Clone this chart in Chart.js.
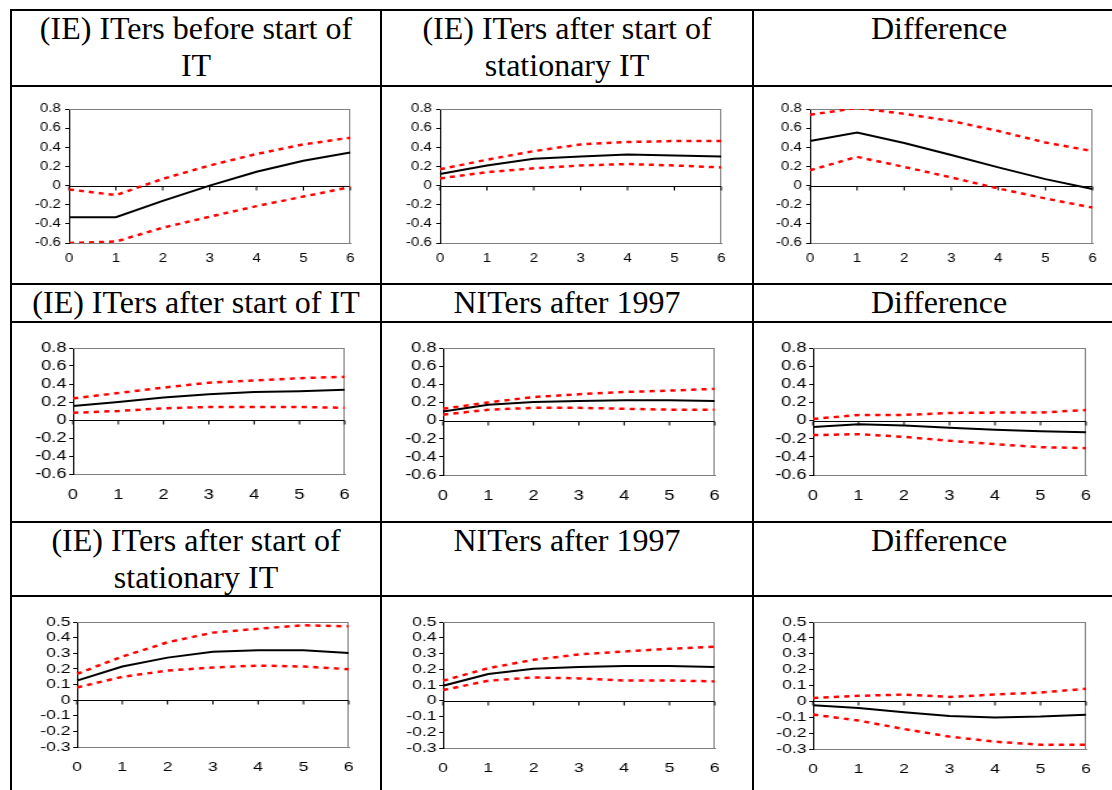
<!DOCTYPE html>
<html>
<head>
<meta charset="utf-8">
<script src="https://cdn.jsdelivr.net/npm/chart.js@4.4.1/dist/chart.umd.min.js"></script>
<style>
  body { margin: 0; background: #fff; width: 1112px; height: 790px; overflow: hidden; position: relative; }
  .hl, .vl { position: absolute; background: #000; }
  .hl { height: 2px; left: 10px; width: 1120px; }
  .vl { width: 2px; top: 9px; height: 800px; }
  .hd { position: absolute; text-align: center; font: 32px/37px "Liberation Serif", "Times New Roman", serif; white-space: nowrap; color: #000; }
  .panel { position: absolute; transform-origin: 0 0; }
</style>
</head>
<body>
<!-- table rules -->
<div class="hl" style="top:9px"></div>
<div class="hl" style="top:85px"></div>
<div class="hl" style="top:283px"></div>
<div class="hl" style="top:321px"></div>
<div class="hl" style="top:521px"></div>
<div class="hl" style="top:595px"></div>
<div class="vl" style="left:10px"></div>
<div class="vl" style="left:380px"></div>
<div class="vl" style="left:752px"></div>

<!-- headers -->
<div class="hd" style="left:12px;width:368px;top:10px">(IE) ITers before start of<br>IT</div>
<div class="hd" style="left:382px;width:370px;top:10px">(IE) ITers after start of<br>stationary IT</div>
<div class="hd" style="left:754px;width:370px;top:10px">Difference</div>
<div class="hd" style="left:12px;width:368px;top:284px">(IE) ITers after start of IT</div>
<div class="hd" style="left:382px;width:370px;top:284px">NITers after 1997</div>
<div class="hd" style="left:754px;width:370px;top:284px">Difference</div>
<div class="hd" style="left:12px;width:368px;top:522px">(IE) ITers after start of<br>stationary IT</div>
<div class="hd" style="left:382px;width:370px;top:522px">NITers after 1997</div>
<div class="hd" style="left:754px;width:370px;top:522px">Difference</div>

<script>
const horizons = ['0', '1', '2', '3', '4', '5', '6'];

// row 1
const beforeMid = [-0.33, -0.33, -0.16, 0.0, 0.145, 0.26, 0.345];
const beforeUp = [-0.04, -0.10, 0.07, 0.21, 0.33, 0.43, 0.50];
const beforeLow = [-0.60, -0.585, -0.44, -0.325, -0.215, -0.115, -0.015];

const statMid = [0.12, 0.21, 0.28, 0.305, 0.325, 0.315, 0.305];
const statUp = [0.17, 0.27, 0.36, 0.43, 0.455, 0.465, 0.465];
const statLow = [0.075, 0.14, 0.18, 0.21, 0.225, 0.21, 0.19];

const diff1Mid = [0.465, 0.555, 0.445, 0.32, 0.19, 0.067, -0.035];
const diff1Up = [0.74, 0.81, 0.75, 0.675, 0.57, 0.45, 0.36];
const diff1Low = [0.16, 0.30, 0.195, 0.085, -0.03, -0.135, -0.23];

// row 2
const afterMid = [0.155, 0.20, 0.25, 0.285, 0.31, 0.32, 0.335];
const afterUp = [0.24, 0.30, 0.36, 0.415, 0.44, 0.465, 0.48];
const afterLow = [0.08, 0.10, 0.13, 0.145, 0.145, 0.145, 0.135];

const nit2Mid = [0.10, 0.175, 0.205, 0.215, 0.225, 0.225, 0.215];
const nit2Up = [0.13, 0.20, 0.26, 0.29, 0.315, 0.33, 0.35];
const nit2Low = [0.065, 0.12, 0.14, 0.14, 0.13, 0.12, 0.12];

const diff2Mid = [-0.07, -0.04, -0.055, -0.08, -0.10, -0.117, -0.128];
const diff2Up = [0.018, 0.062, 0.062, 0.084, 0.088, 0.088, 0.117];
const diff2Low = [-0.16, -0.15, -0.18, -0.223, -0.26, -0.293, -0.304];

// row 3
const stat3Mid = [0.125, 0.215, 0.272, 0.309, 0.319, 0.319, 0.302];
const stat3Up = [0.168, 0.279, 0.37, 0.432, 0.457, 0.479, 0.472];
const stat3Low = [0.081, 0.149, 0.189, 0.209, 0.221, 0.215, 0.198];

const nit3Mid = [0.095, 0.17, 0.203, 0.214, 0.22, 0.22, 0.214];
const nit3Up = [0.127, 0.207, 0.26, 0.294, 0.313, 0.33, 0.343];
const nit3Low = [0.068, 0.127, 0.148, 0.142, 0.129, 0.129, 0.123];

const diff3Mid = [-0.024, -0.041, -0.068, -0.092, -0.102, -0.096, -0.085];
const diff3Up = [0.022, 0.035, 0.043, 0.028, 0.043, 0.056, 0.079];
const diff3Low = [-0.083, -0.121, -0.174, -0.222, -0.254, -0.273, -0.273];

// plot box = [left, top, right, bottom] on the page; sx = horizontal stretch of the pasted picture
const panels = [
  { mid: beforeMid, up: beforeUp, low: beforeLow, box: [69.3, 109, 350.7, 242.5], yMin: -0.6, yMax: 0.8, step: 0.2, font: 12, sx: 1.25, xPad: 8.5, yPad: 3.5 },
  { mid: statMid, up: statUp, low: statLow, box: [440, 109, 721.7, 242.5], yMin: -0.6, yMax: 0.8, step: 0.2, font: 12, sx: 1.25, xPad: 8.5, yPad: 3.5 },
  { mid: diff1Mid, up: diff1Up, low: diff1Low, box: [810, 109, 1093, 242.5], yMin: -0.6, yMax: 0.8, step: 0.2, font: 12, sx: 1.25, xPad: 8.5, yPad: 3.5 },
  { mid: afterMid, up: afterUp, low: afterLow, box: [72.7, 348.3, 344.3, 474.5], yMin: -0.6, yMax: 0.8, step: 0.2, font: 14, sx: 1.3, xPad: 12.5, yPad: 2 },
  { mid: nit2Mid, up: nit2Up, low: nit2Low, box: [443.3, 348.3, 715, 475], yMin: -0.6, yMax: 0.8, step: 0.2, font: 14, sx: 1.3, xPad: 12.5, yPad: 2 },
  { mid: diff2Mid, up: diff2Up, low: diff2Low, box: [813.3, 348.3, 1086.7, 475.5], yMin: -0.6, yMax: 0.8, step: 0.2, font: 14, sx: 1.3, xPad: 12.5, yPad: 2 },
  { mid: stat3Mid, up: stat3Up, low: stat3Low, box: [76.7, 622.3, 348.7, 747.7], yMin: -0.3, yMax: 0.5, step: 0.1, font: 13.5, sx: 1.3, xPad: 12.5, yPad: 2 },
  { mid: nit3Mid, up: nit3Up, low: nit3Low, box: [443.3, 622.3, 715, 748.3], yMin: -0.3, yMax: 0.5, step: 0.1, font: 13.5, sx: 1.3, xPad: 12.5, yPad: 2 },
  { mid: diff3Mid, up: diff3Up, low: diff3Low, box: [813.3, 622.3, 1086.7, 749], yMin: -0.3, yMax: 0.5, step: 0.1, font: 13.5, sx: 1.3, xPad: 12.5, yPad: 2 }
];

// grey frame on top/right plus the category axis crossing at zero with its tick marks
const zeroAxis = {
  id: 'zeroAxis',
  beforeDatasetsDraw(chart) {
    const { ctx, chartArea: a, scales: { x, y } } = chart;
    ctx.save();
    ctx.lineWidth = 1;
    ctx.strokeStyle = '#808080';
    ctx.beginPath();
    ctx.moveTo(a.left, a.top + 0.5);
    ctx.lineTo(a.right, a.top + 0.5);
    ctx.moveTo(a.right - 0.5, a.top);
    ctx.lineTo(a.right - 0.5, a.bottom);
    ctx.stroke();
    const y0 = Math.round(y.getPixelForValue(0)) + 0.5;
    ctx.strokeStyle = '#000';
    ctx.beginPath();
    ctx.moveTo(a.left, y0);
    ctx.lineTo(a.right, y0);
    horizons.forEach((h, i) => {
      const px = x.getPixelForValue(i);
      ctx.moveTo(px, y0);
      ctx.lineTo(px, y0 + 4);
    });
    ctx.stroke();
    ctx.restore();
  }
};

const yw = 40, padTop = 8, padRight = 8, xh = 30;

panels.forEach(p => {
  const [L, T, R, B] = p.box;
  const w = Math.round(yw + (R - L) / p.sx + padRight);
  const h = Math.round(padTop + (B - T) + xh);
  const wrap = document.createElement('div');
  wrap.className = 'panel';
  wrap.style.left = (L - yw * p.sx) + 'px';
  wrap.style.top = (T - padTop) + 'px';
  wrap.style.transform = 'scaleX(' + p.sx + ')';
  const canvas = document.createElement('canvas');
  canvas.width = w;
  canvas.height = h;
  wrap.appendChild(canvas);
  document.body.appendChild(wrap);

  const font = { family: '"Liberation Sans", Arial, sans-serif', size: p.font };

  new Chart(canvas.getContext('2d'), {
    type: 'line',
    data: {
      labels: horizons,
      datasets: [
        { data: p.up, borderColor: '#ff0000', borderWidth: 2.5, borderDash: [4, 4] },
        { data: p.low, borderColor: '#ff0000', borderWidth: 2.5, borderDash: [4, 4] },
        { data: p.mid, borderColor: '#000000', borderWidth: 2 }
      ]
    },
    options: {
      responsive: false,
      animation: false,
      events: [],
      elements: { point: { radius: 0 }, line: { tension: 0 } },
      layout: { padding: { left: 0, top: padTop, right: padRight, bottom: 0 } },
      plugins: { legend: { display: false }, tooltip: { enabled: false } },
      scales: {
        x: {
          type: 'category',
          offset: false,
          grid: { display: false, drawTicks: false },
          border: { display: true, color: '#808080', width: 1 },
          ticks: { color: '#000', font: font, padding: p.xPad, maxRotation: 0, autoSkip: false },
          afterFit(s) { s.height = xh; s.paddingLeft = 0; s.paddingRight = 0; }
        },
        y: {
          min: p.yMin,
          max: p.yMax,
          grid: { display: true, drawOnChartArea: false, drawTicks: true, tickLength: 3, color: '#000' },
          border: { display: true, color: '#000', width: 1 },
          ticks: {
            stepSize: p.step,
            autoSkip: false,
            color: '#000',
            font: font,
            padding: p.yPad,
            callback: v => String(Number(v.toFixed(1)))
          },
          afterFit(s) { s.width = yw; s.paddingTop = 0; s.paddingBottom = 0; }
        }
      }
    },
    plugins: [zeroAxis]
  });
});
</script>
</body>
</html>
